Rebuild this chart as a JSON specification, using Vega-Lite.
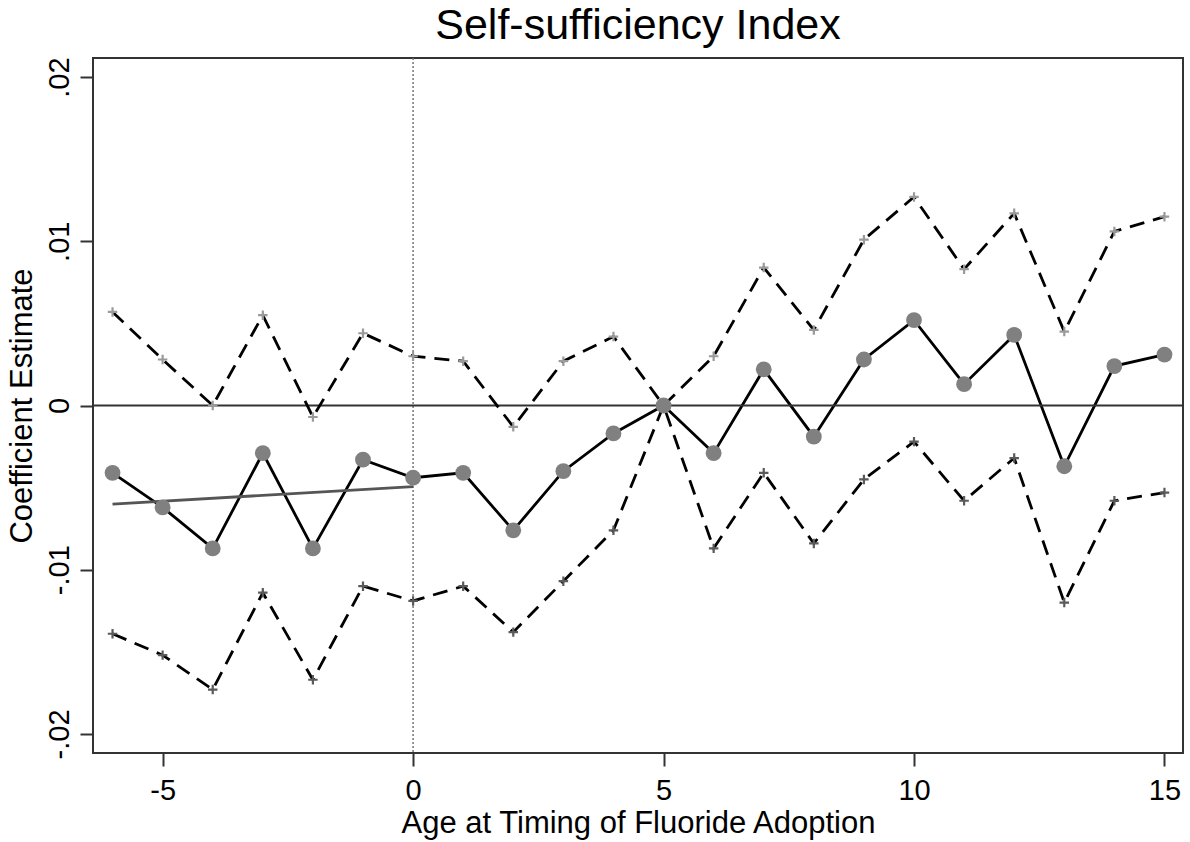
{
  "$schema": "https://vega.github.io/schema/vega-lite/v6.json",
  "width": 1090,
  "height": 695,
  "autosize": "none",
  "padding": {"left": 93, "top": 58, "right": 7, "bottom": 89},
  "background": "white",
  "config": {
    "font": "Liberation Sans",
    "view": {"stroke": "#333333", "strokeWidth": 2},
    "axis": {
      "grid": false,
      "domain": false,
      "tickColor": "#333333",
      "tickWidth": 2,
      "tickSize": 13,
      "labelFont": "Liberation Sans",
      "labelFontSize": 29,
      "labelColor": "#000000",
      "titleFont": "Liberation Sans",
      "titleFontSize": 31,
      "titleFontWeight": "normal",
      "titleColor": "#000000"
    }
  },
  "title": {
    "text": "Self-sufficiency Index",
    "font": "Liberation Sans",
    "fontSize": 43,
    "fontWeight": "normal",
    "color": "#000000",
    "anchor": "middle",
    "baseline": "bottom",
    "frame": "group",
    "offset": -34
  },
  "data": {
    "values": [
      {"x": -6, "b": -0.0041, "hi": 0.0057, "lo": -0.0139},
      {"x": -5, "b": -0.0062, "hi": 0.0028, "lo": -0.0152},
      {"x": -4, "b": -0.0087, "hi": 0.0000, "lo": -0.0173},
      {"x": -3, "b": -0.0029, "hi": 0.0055, "lo": -0.0114},
      {"x": -2, "b": -0.0087, "hi": -0.0007, "lo": -0.0167},
      {"x": -1, "b": -0.0033, "hi": 0.0044, "lo": -0.0110},
      {"x": 0, "b": -0.0044, "hi": 0.0030, "lo": -0.0119},
      {"x": 1, "b": -0.0041, "hi": 0.0027, "lo": -0.0110},
      {"x": 2, "b": -0.0076, "hi": -0.0013, "lo": -0.0138},
      {"x": 3, "b": -0.0040, "hi": 0.0027, "lo": -0.0107},
      {"x": 4, "b": -0.0017, "hi": 0.0042, "lo": -0.0076},
      {"x": 5, "b": 0.0, "hi": 0.0, "lo": 0.0},
      {"x": 6, "b": -0.0029, "hi": 0.0030, "lo": -0.0087},
      {"x": 7, "b": 0.0022, "hi": 0.0084, "lo": -0.0041},
      {"x": 8, "b": -0.0019, "hi": 0.0046, "lo": -0.0084},
      {"x": 9, "b": 0.0028, "hi": 0.0101, "lo": -0.0045},
      {"x": 10, "b": 0.0052, "hi": 0.0127, "lo": -0.0022},
      {"x": 11, "b": 0.0013, "hi": 0.0083, "lo": -0.0058},
      {"x": 12, "b": 0.0043, "hi": 0.0117, "lo": -0.0032},
      {"x": 13, "b": -0.0037, "hi": 0.0045, "lo": -0.0120},
      {"x": 14, "b": 0.0024, "hi": 0.0106, "lo": -0.0058},
      {"x": 15, "b": 0.0031, "hi": 0.0115, "lo": -0.0053}
    ]
  },
  "layer": [
    {
      "mark": {"type": "line", "color": "#000000", "strokeWidth": 2.8},
      "encoding": {
        "x": {
          "field": "x", "type": "quantitative",
          "scale": {"domain": [-6.39, 15.37], "nice": false, "zero": false},
          "axis": {
            "title": "Age at Timing of Fluoride Adoption",
            "values": [-5, 0, 5, 10, 15],
            "labelExpr": "datum.value < 0 ? '-' + abs(datum.value) : '' + datum.value",
            "labelPadding": 10,
            "titlePadding": 3
          }
        },
        "y": {
          "field": "b", "type": "quantitative",
          "scale": {"domain": [-0.02116, 0.02116], "nice": false, "zero": false},
          "axis": {
            "title": "Coefficient Estimate",
            "values": [-0.02, -0.01, 0, 0.01, 0.02],
            "labelExpr": "datum.value == 0 ? '0' : (datum.value < 0 ? '-' : '') + replace(format(abs(datum.value), '.2f'), '0.', '.')",
            "labelAngle": -90,
            "labelAlign": "center",
            "labelBaseline": "alphabetic",
            "labelPadding": 12,
            "titlePadding": 7
          }
        }
      }
    },
    {
      "data": {"values": [{}]},
      "mark": {"type": "rule", "color": "#777777", "strokeWidth": 1.5, "strokeDash": [2, 2]},
      "encoding": {
        "x": {"datum": 0, "type": "quantitative", "scale": {"domain": [-6.39, 15.37], "nice": false, "zero": false}}
      }
    },
    {
      "data": {"values": [{}]},
      "mark": {"type": "rule", "color": "#333333", "strokeWidth": 2},
      "encoding": {
        "y": {"datum": 0, "type": "quantitative", "scale": {"domain": [-0.02116, 0.02116], "nice": false, "zero": false}}
      }
    },
    {
      "data": {"values": [{"tx": -6, "ty": -0.0060}, {"tx": 0, "ty": -0.00494}]},
      "mark": {"type": "line", "color": "#555555", "strokeWidth": 2.8},
      "encoding": {
        "x": {"field": "tx", "type": "quantitative", "scale": {"domain": [-6.39, 15.37], "nice": false, "zero": false}},
        "y": {"field": "ty", "type": "quantitative", "scale": {"domain": [-0.02116, 0.02116], "nice": false, "zero": false}}
      }
    },
    {
      "mark": {"type": "line", "color": "#000000", "strokeWidth": 2.8, "strokeDash": [15, 9]},
      "encoding": {
        "x": {"field": "x", "type": "quantitative", "scale": {"domain": [-6.39, 15.37], "nice": false, "zero": false}},
        "y": {"field": "hi", "type": "quantitative", "scale": {"domain": [-0.02116, 0.02116], "nice": false, "zero": false}}
      }
    },
    {
      "mark": {"type": "line", "color": "#000000", "strokeWidth": 2.8, "strokeDash": [15, 9]},
      "encoding": {
        "x": {"field": "x", "type": "quantitative", "scale": {"domain": [-6.39, 15.37], "nice": false, "zero": false}},
        "y": {"field": "lo", "type": "quantitative", "scale": {"domain": [-0.02116, 0.02116], "nice": false, "zero": false}}
      }
    },
    {
      "mark": {"type": "point", "shape": "M-1,0L1,0M0,-1L0,1", "filled": false, "stroke": "#9a9a9a", "strokeWidth": 2.2, "size": 90, "opacity": 1},
      "encoding": {
        "x": {"field": "x", "type": "quantitative", "scale": {"domain": [-6.39, 15.37], "nice": false, "zero": false}},
        "y": {"field": "hi", "type": "quantitative", "scale": {"domain": [-0.02116, 0.02116], "nice": false, "zero": false}}
      }
    },
    {
      "mark": {"type": "point", "shape": "M-1,0L1,0M0,-1L0,1", "filled": false, "stroke": "#5a5a5a", "strokeWidth": 2.2, "size": 90, "opacity": 1},
      "encoding": {
        "x": {"field": "x", "type": "quantitative", "scale": {"domain": [-6.39, 15.37], "nice": false, "zero": false}},
        "y": {"field": "lo", "type": "quantitative", "scale": {"domain": [-0.02116, 0.02116], "nice": false, "zero": false}}
      }
    },
    {
      "mark": {"type": "circle", "color": "#808080", "size": 250, "opacity": 1},
      "encoding": {
        "x": {"field": "x", "type": "quantitative", "scale": {"domain": [-6.39, 15.37], "nice": false, "zero": false}},
        "y": {"field": "b", "type": "quantitative", "scale": {"domain": [-0.02116, 0.02116], "nice": false, "zero": false}}
      }
    }
  ]
}
